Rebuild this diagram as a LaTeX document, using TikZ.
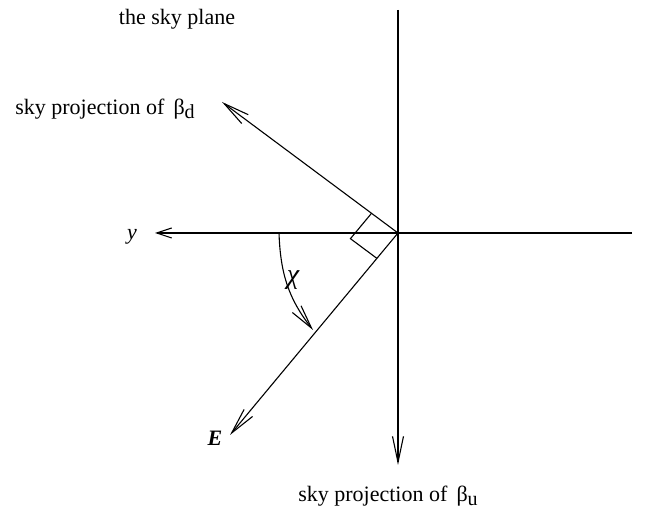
\documentclass[tikz,border=0pt]{standalone}
\usepackage{fontspec}
\setmainfont{Liberation Serif}
\usetikzlibrary{arrows.meta,calc}

\tikzset{
  axis/.style={line width=1.1pt,-{Straight Barb[length=26pt,width=11pt]}},
  txt/.style={font=\fontsize{22}{26}\selectfont,inner sep=0pt}
}
\newcommand{\skysub}[1]{\raisebox{-0.45ex}{\fontsize{20}{22}\selectfont #1}}

\begin{document}
\begin{tikzpicture}[x=1pt,y=1pt]
        \useasboundingbox (0,0) rectangle (651,514);
        \coordinate (O) at (398,281);
        \coordinate (T) at (398,504);
        \coordinate (Bu) at (398,49);
        \coordinate (R) at (632,281);
        \coordinate (Y) at (155,281);
        \coordinate (Bd) at (222,412);
        \coordinate (E) at (230,79);

        \draw (105,405) node[txt] (bd) {sky projection of \,β\skysub{d}};
        \draw (177,495) node[txt] (plane) {the sky plane};
        \draw (388,18) node[txt] (bu) {sky projection of \,β\skysub{u}};
        \draw (132,277) node[txt] (y) {\textit{y}};
        \draw (215,76) node[txt] (e) {\textbf{\textit{E}}};
        \draw (293,234) node[txt,font=\fontsize{28}{30}\selectfont\itshape] (chi) {χ};

        \draw[line width=1.1pt] (T)--(O);
        \draw[axis] (O)--(Bu);
        \draw[line width=1.1pt] (R)--(O);
        \draw[axis,-{Straight Barb[length=15pt,width=10pt]}] (O)--(Y);
        \draw[axis] (O)--(Bd);
        \draw[axis] (O)--(E);

        % right angle between the two projections
        \draw[line width=1.1pt] ($(O)!33pt!(Bd)$) -- ($(O)!33pt!(Bd)+(O)!33pt!(E)-(O)$)
        -- ($(O)!33pt!(E)$);

        \draw[axis,-{Straight Barb[length=24pt,width=11pt]}] (279,281) coordinate (c1)
        to[out=-88,in=128] (313,184) coordinate (c2);
    \end{tikzpicture}
\end{document}
